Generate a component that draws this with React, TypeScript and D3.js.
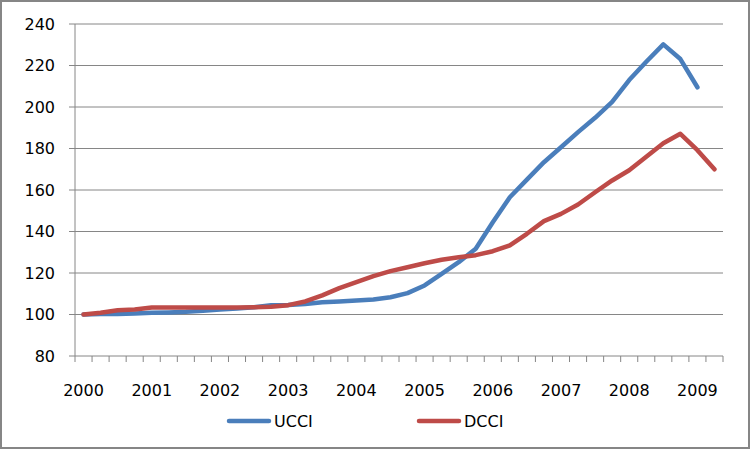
import React from "react";
import * as d3 from "d3";

const categories: string[] = [];
const years = [2000, 2001, 2002, 2003, 2004, 2005, 2006, 2007, 2008, 2009];
years.forEach((y) => {
  ["Q1", "Q2", "Q3", "Q4"].forEach((q) => {
    if (!(y === 2009 && (q === "Q3" || q === "Q4"))) categories.push(`${y}${q}`);
  });
});

const ucci = [100, 100.2, 100.3, 100.5, 100.8, 101, 101.3, 101.8, 102.4, 102.9, 103.5, 104.5, 104.6, 105.1, 105.9, 106.3, 106.7, 107.2, 108.3, 110.3, 114, 119.6, 125.2, 131.7, 144.5, 156.5, 165, 173.4, 180.6, 187.9, 194.8, 202.5, 213, 221.8, 230.2, 223.1, 209.5];
const dcci = [100, 100.8, 102, 102.4, 103.4, 103.4, 103.4, 103.4, 103.4, 103.4, 103.5, 103.7, 104.5, 106.3, 109.2, 112.7, 115.6, 118.5, 120.9, 122.8, 124.7, 126.4, 127.6, 128.6, 130.5, 133.3, 138.9, 145, 148.5, 153, 158.9, 164.6, 169.5, 176, 182.5, 187.1, 179.2, 170];
const yTicks = [80, 100, 120, 140, 160, 180, 200, 220, 240];
const yearLabels = ["2000", "2001", "2002", "2003", "2004", "2005", "2006", "2007", "2008", "2009"];

const W = 753, H = 451;
const left = 75, right = 723, top = 24, bottom = 356;
const font = "DejaVu Sans";
const grid = "#868686";
const blue = "#4A7EBB";
const red = "#BE4B48";

export default function App() {
  const x = d3.scaleBand<string>().domain(categories).range([left, right]).padding(0);
  const y = d3.scaleLinear().domain([80, 240]).range([bottom, top]);
  const cx = (i: number) => (x(categories[i]) as number) + x.bandwidth() / 2;
  const line = d3.line<number>().x((_, i) => cx(i)).y((d) => y(d));
  const boundaries = categories.map((c) => x(c) as number).concat([right]);

  return (
    <svg width={W} height={H} style={{ position: "absolute", left: 0, top: 0 }}>
      <rect x={0} y={0} width={W} height={H} fill="#fff" />
      <rect x={1} y={1} width={748} height={447} fill="#fff" stroke={grid} strokeWidth={2} />
      {yTicks.map((t) => (
        <g key={t}>
          <line x1={left - 6} x2={right} y1={y(t)} y2={y(t)} stroke={grid} strokeWidth={1} />
          <text x={55} y={y(t)} dy="0.36em" textAnchor="end" fontFamily={font} fontSize={16} fill="#000">
            {t}
          </text>
        </g>
      ))}
      <line x1={left} x2={left} y1={top} y2={bottom} stroke={grid} strokeWidth={1} />
      {boundaries.map((b, i) => (
        <line key={i} x1={b} x2={b} y1={bottom} y2={bottom + 6} stroke={grid} strokeWidth={1} />
      ))}
      {yearLabels.map((lbl, k) => (
        <text key={lbl} x={cx(k * 4)} y={396} textAnchor="middle" fontFamily={font} fontSize={16} fill="#000">
          {lbl}
        </text>
      ))}
      <path d={line(ucci) as string} fill="none" stroke={blue} strokeWidth={4.5} strokeLinejoin="round" strokeLinecap="round" />
      <path d={line(dcci) as string} fill="none" stroke={red} strokeWidth={4.5} strokeLinejoin="round" strokeLinecap="round" />
      <line x1={229} x2={269} y1={421} y2={421} stroke={blue} strokeWidth={4.5} strokeLinecap="round" />
      <text x={274} y={427} fontFamily={font} fontSize={16} fill="#000">UCCI</text>
      <line x1={419} x2={459} y1={421} y2={421} stroke={red} strokeWidth={4.5} strokeLinecap="round" />
      <text x={464} y={427} fontFamily={font} fontSize={16} fill="#000">DCCI</text>
    </svg>
  );
}
